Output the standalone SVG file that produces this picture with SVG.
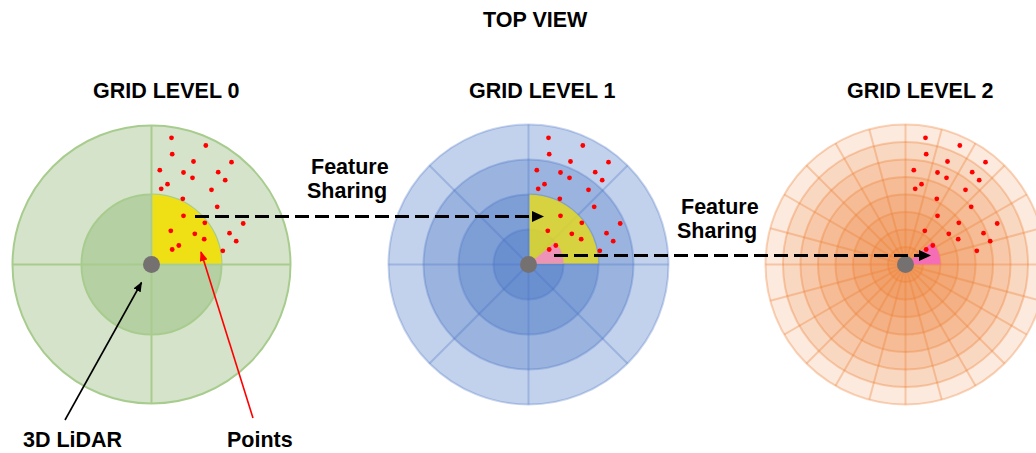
<svg xmlns="http://www.w3.org/2000/svg" xmlns:xlink="http://www.w3.org/1999/xlink" width="1036" height="453" viewBox="0 0 1036 453">
<style>
  .t { font-family: "Liberation Sans", Arial, sans-serif; font-weight: bold; font-size: 21.5px; fill: #000; }
  .dot { fill: #ff0000; }
  .gl { stroke: #a8cc8e; stroke-width: 2; }
  .bl { stroke: #4472c4; stroke-opacity: 0.3; stroke-width: 2; }
  .ol { stroke: #ed7d31; stroke-opacity: 0.34; stroke-width: 2; }
  .bc { fill: #4472c4; fill-opacity: 0.32; stroke: #4472c4; stroke-opacity: 0.3; stroke-width: 2; }
  .oc { fill: #ed7d31; fill-opacity: 0.16; stroke: #ed7d31; stroke-opacity: 0.34; stroke-width: 2; }
  .hub { fill: #767171; }
  .dash { stroke: #000; stroke-width: 3.2; stroke-dasharray: 14 6; fill: none; }
</style>
<defs>
  <marker id="bigHead" markerUnits="userSpaceOnUse" markerWidth="13" markerHeight="12" refX="1" refY="6" orient="auto">
    <path d="M0,0.5 L12,6 L0,11.5 Z" fill="#000"/>
  </marker>
  <marker id="blkHead" markerUnits="userSpaceOnUse" markerWidth="10" markerHeight="8" refX="9" refY="4" orient="auto">
    <path d="M0,0 L10,4 L0,8 Z" fill="#000"/>
  </marker>
  <marker id="redHead" markerUnits="userSpaceOnUse" markerWidth="10" markerHeight="8" refX="9" refY="4" orient="auto">
    <path d="M0,0 L10,4 L0,8 Z" fill="#ff0000"/>
  </marker>
  <g id="dots">
    <circle class="dot" cx="20" cy="-126.7" r="2.4"/>
    <circle class="dot" cx="54.3" cy="-119" r="2.4"/>
    <circle class="dot" cx="20.7" cy="-110.3" r="2.4"/>
    <circle class="dot" cx="42" cy="-103" r="2.4"/>
    <circle class="dot" cx="80" cy="-102.3" r="2.4"/>
    <circle class="dot" cx="8.3" cy="-94.3" r="2.4"/>
    <circle class="dot" cx="32" cy="-92" r="2.4"/>
    <circle class="dot" cx="66.7" cy="-92.3" r="2.4"/>
    <circle class="dot" cx="41" cy="-86.7" r="2.4"/>
    <circle class="dot" cx="73.7" cy="-84.3" r="2.4"/>
    <circle class="dot" cx="16" cy="-80.3" r="2.4"/>
    <circle class="dot" cx="9.7" cy="-75.7" r="2.4"/>
    <circle class="dot" cx="60" cy="-74.7" r="2.4"/>
    <circle class="dot" cx="31.3" cy="-65.7" r="2.4"/>
    <circle class="dot" cx="65.7" cy="-57.7" r="2.4"/>
    <circle class="dot" cx="32" cy="-48.7" r="2.4"/>
    <circle class="dot" cx="91.7" cy="-41" r="2.4"/>
    <circle class="dot" cx="53.3" cy="-41.7" r="2.4"/>
    <circle class="dot" cx="19.3" cy="-33.7" r="2.4"/>
    <circle class="dot" cx="43.3" cy="-30.7" r="2.4"/>
    <circle class="dot" cx="78" cy="-31.3" r="2.4"/>
    <circle class="dot" cx="52.7" cy="-25.3" r="2.4"/>
    <circle class="dot" cx="84.7" cy="-23.3" r="2.4"/>
    <circle class="dot" cx="27.3" cy="-19" r="2.4"/>
    <circle class="dot" cx="20.7" cy="-15" r="2.4"/>
    <circle class="dot" cx="71.3" cy="-13.7" r="2.4"/>
  </g>
</defs>
<rect width="1036" height="453" fill="#ffffff"/>

<text class="t" x="483" y="26.5">TOP VIEW</text>

<g id="grid0">
  <text class="t" x="93" y="97.5">GRID LEVEL 0</text>
  <g transform="translate(151.5,264.5)">
    <circle r="139" fill="#d5e3cb" stroke="#a8cc8e" stroke-width="2"/>
    <circle r="70" fill="#b5d0a3" stroke="#a8cc8e" stroke-width="2"/>
    <line class="gl" x1="-139" y1="0" x2="139" y2="0"/>
    <line class="gl" x1="0" y1="-139" x2="0" y2="139"/>
    <path d="M1,-1 V-70 A70,70 0 0 1 70,-1 Z" fill="#efe015"/>
    <use xlink:href="#dots"/>
    <circle class="hub" r="8.5"/>
  </g>
</g>

<g id="grid1">
  <text class="t" x="469" y="97.5">GRID LEVEL 1</text>
  <g transform="translate(528.5,264.5)">
    <circle class="bc" r="140"/>
    <circle class="bc" r="105"/>
    <circle class="bc" r="70"/>
    <circle class="bc" r="35"/>
    <line class="bl" x1="-140" y1="0" x2="140" y2="0"/>
    <line class="bl" x1="0" y1="-140" x2="0" y2="140"/>
    <line class="bl" x1="-99" y1="-99" x2="99" y2="99"/>
    <line class="bl" x1="-99" y1="99" x2="99" y2="-99"/>
    <path d="M1,-1 V-70 A70,70 0 0 1 70,-1 Z" fill="#efe015" fill-opacity="0.78"/>
    <path d="M1,-1 H35 A35,35 0 0 0 26.8,-22.5 Z" fill="#ee93b8"/>
    <use xlink:href="#dots"/>
    <circle class="hub" r="8.5"/>
  </g>
</g>

<g id="grid2">
  <text class="t" x="847" y="97.5">GRID LEVEL 2</text>
  <g transform="translate(905.5,264.5)">
    <circle class="oc" r="140"/>
    <circle class="oc" r="122.5"/>
    <circle class="oc" r="105"/>
    <circle class="oc" r="87.5"/>
    <circle class="oc" r="70"/>
    <circle class="oc" r="52.5"/>
    <circle class="oc" r="35"/>
    <circle class="oc" r="17.5"/>
    <line class="ol" x1="-140" y1="0" x2="140" y2="0"/>
    <line class="ol" x1="-140" y1="0" x2="140" y2="0" transform="rotate(15)"/>
    <line class="ol" x1="-140" y1="0" x2="140" y2="0" transform="rotate(30)"/>
    <line class="ol" x1="-140" y1="0" x2="140" y2="0" transform="rotate(45)"/>
    <line class="ol" x1="-140" y1="0" x2="140" y2="0" transform="rotate(60)"/>
    <line class="ol" x1="-140" y1="0" x2="140" y2="0" transform="rotate(75)"/>
    <line class="ol" x1="-140" y1="0" x2="140" y2="0" transform="rotate(90)"/>
    <line class="ol" x1="-140" y1="0" x2="140" y2="0" transform="rotate(105)"/>
    <line class="ol" x1="-140" y1="0" x2="140" y2="0" transform="rotate(120)"/>
    <line class="ol" x1="-140" y1="0" x2="140" y2="0" transform="rotate(135)"/>
    <line class="ol" x1="-140" y1="0" x2="140" y2="0" transform="rotate(150)"/>
    <line class="ol" x1="-140" y1="0" x2="140" y2="0" transform="rotate(165)"/>
    <path d="M0,0 H35 A35,35 0 0 0 26.8,-22.5 Z" fill="#f56db4"/>
    <use xlink:href="#dots"/>
    <circle class="hub" r="8.5"/>
  </g>
</g>

<g id="label-lidar">
  <text class="t" x="23" y="446.5">3D LiDAR</text>
</g>
<g id="label-points">
  <text class="t" x="227" y="446.5">Points</text>
</g>
<g id="label-fs1">
  <text class="t" x="311" y="173.5">Feature</text>
  <text class="t" x="307" y="198">Sharing</text>
</g>
<g id="label-fs2">
  <text class="t" x="681" y="213.5">Feature</text>
  <text class="t" x="677" y="238">Sharing</text>
</g>

<g id="connectors">
  <line class="dash" x1="195" y1="216.5" x2="533" y2="216.5" marker-end="url(#bigHead)"/>
  <line class="dash" x1="554" y1="255.5" x2="920" y2="255.5" marker-end="url(#bigHead)"/>
  <line x1="65" y1="420" x2="141.5" y2="282.5" stroke="#000" stroke-width="1.6" marker-end="url(#blkHead)"/>
  <line x1="253" y1="418" x2="201" y2="252" stroke="#ff0000" stroke-width="1.6" marker-end="url(#redHead)"/>
</g>
</svg>
